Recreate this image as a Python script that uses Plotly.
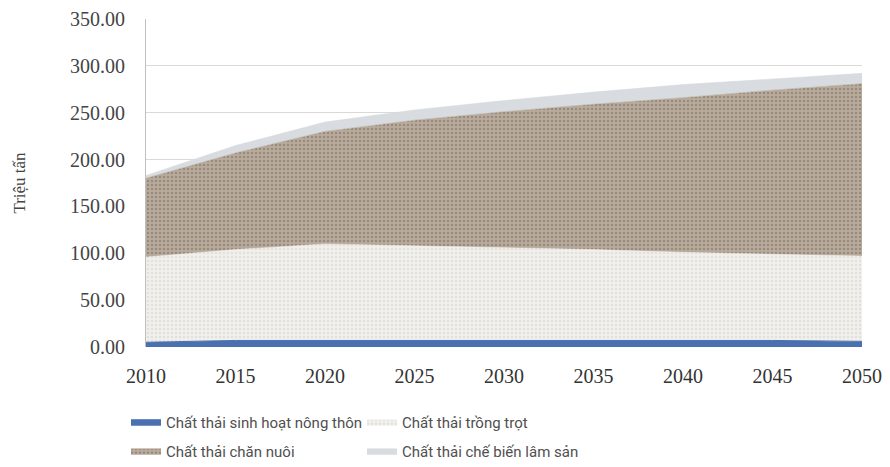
import plotly.graph_objects as go

years = [2010, 2015, 2020, 2025, 2030, 2035, 2040, 2045, 2050]
sinh_hoat = [5, 7, 7, 7, 7, 7, 7, 7, 6]
trong_trot = [91, 97, 103, 101, 99, 97, 94, 92, 91]
chan_nuoi = [84, 103, 120, 134, 145, 155, 165, 175, 184]
lam_san = [3, 8, 10, 11, 12, 13, 14, 12, 11]

names = ["Chất thải sinh hoạt nông thôn", "Chất thải trồng trọt",
         "Chất thải chăn nuôi", "Chất thải chế biến lâm sản"]

fig = go.Figure()
fig.add_trace(go.Scatter(x=years, y=sinh_hoat, name=names[0], stackgroup="s",
                         mode="lines", line=dict(color="#4a70b0", width=1),
                         fillcolor="#4a70b0", legend="legend"))
fig.add_trace(go.Scatter(x=years, y=trong_trot, name=names[1], stackgroup="s",
                         mode="lines", line=dict(color="#eeeeeb", width=0.5),
                         fillpattern=dict(shape=".", bgcolor="#f1f0ed", fgcolor="#d2d0ca",
                                          size=4, solidity=0.35), legend="legend2"))
fig.add_trace(go.Scatter(x=years, y=chan_nuoi, name=names[2], stackgroup="s",
                         mode="lines", line=dict(color="#a89a8b", width=0.5),
                         fillpattern=dict(shape=".", bgcolor="#b9ab9b", fgcolor="#75685d",
                                          size=4, solidity=0.3), legend="legend3"))
fig.add_trace(go.Scatter(x=years, y=lam_san, name=names[3], stackgroup="s",
                         mode="lines", line=dict(color="#d5d8dc", width=0.5),
                         fillcolor="#d8dbdf", legend="legend4"))

leg_common = dict(orientation="h", xanchor="left", yanchor="middle",
                  xref="container", yref="container",
                  font=dict(family="Roboto", size=15, color="#505050"),
                  itemwidth=30, bgcolor="rgba(0,0,0,0)")

W, H = 890, 467
x1 = 126 / W
x2 = 362 / W
y1 = 1 - 422 / H
y2 = 1 - 451 / H

fig.update_layout(
    width=W, height=H,
    margin=dict(l=146, r=28, t=19, b=120),
    paper_bgcolor="white", plot_bgcolor="white",
    showlegend=True,
    legend=dict(leg_common, x=x1, y=y1),
    legend2=dict(leg_common, x=x2, y=y1),
    legend3=dict(leg_common, x=x1, y=y2),
    legend4=dict(leg_common, x=x2, y=y2),
    xaxis=dict(range=[2010, 2050], tickmode="array", tickvals=years,
               ticktext=[str(y) for y in years], showgrid=False, zeroline=False,
               tickfont=dict(family="Liberation Serif", size=20, color="#333"),
               ticks="", showline=False, ticklabelstandoff=15, automargin=False),
    yaxis=dict(range=[0, 350], tickvals=[0, 50, 100, 150, 200, 250, 300, 350],
               tickformat=".2f", showgrid=True, gridcolor="#d9d9d9", gridwidth=1,
               zeroline=False, showline=True, linecolor="#bfbfbf", linewidth=1,
               tickfont=dict(family="Liberation Serif", size=20, color="#444"),
               ticklabelstandoff=16, automargin=False,
               title=dict(text="Triệu tấn", font=dict(family="Liberation Serif", size=17, color="#444"),
                          standoff=40)),
)

fig.write_html("out.html")
